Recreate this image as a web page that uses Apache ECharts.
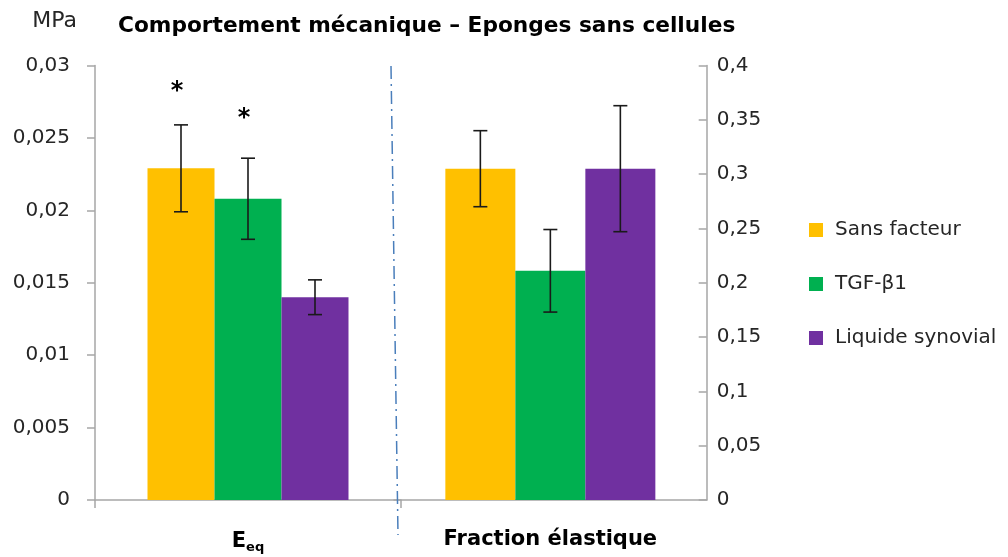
<!DOCTYPE html>
<html>
<head>
<meta charset="utf-8">
<script src="https://cdn.jsdelivr.net/npm/echarts@6/dist/echarts.min.js"></script>
<style>
  html, body { margin: 0; padding: 0; background: #fff; }
  #chart { width: 1008px; height: 557px; }
</style>
</head>
<body>
<div id="chart"></div>
<script>
// Mechanical behaviour of cell-free sponges: equilibrium modulus and elastic fraction
const categories = ['E_eq', 'Fraction élastique'];
const seriesNames = ['Sans facteur', 'TGF-β1', 'Liquide synovial'];
const seriesColors = ['#FFC000', '#00B050', '#7030A0'];

// Equilibrium modulus (MPa), left axis
const eeqValues = [0.0229, 0.0208, 0.0140];
const eeqErrors = [0.0030, 0.0028, 0.0012];

// Elastic fraction, right axis
const fractionValues = [0.305, 0.211, 0.305];
const fractionErrors = [0.035, 0.038, 0.058];

// Axis scales
const leftAxis = { min: 0, max: 0.03, interval: 0.005, name: 'MPa' };
const rightAxis = { min: 0, max: 0.4, interval: 0.05 };

// Significance marks (series index, height in MPa)
const stars = [
  { series: 0, value: 0.0285 },
  { series: 1, value: 0.0267 }
];

const FONT = '"DejaVu Sans", sans-serif';
const AXIS_GREY = '#a6a6a6';
const LABEL_COLOR = '#262626';
const BAR_W = [67, 70];

const fmt = v => String(parseFloat(Number(v).toFixed(4))).replace('.', ',');

function errorBarSeries(gridIdx, values, errors) {
  const barW = BAR_W[gridIdx];
  return {
    type: 'custom',
    xAxisIndex: gridIdx,
    yAxisIndex: gridIdx,
    silent: true,
    z: 5,
    data: values.map((v, i) => [0, v - errors[i], v + errors[i], i]),
    renderItem: (params, api) => {
      const i = api.value(3);
      const off = (i - (seriesNames.length - 1) / 2) * barW;
      const lo = api.coord([api.value(0), api.value(1)]);
      const hi = api.coord([api.value(0), api.value(2)]);
      const x = lo[0] + off;
      const cap = 7;
      const style = { stroke: '#1a1a1a', lineWidth: 1.6 };
      return {
        type: 'group',
        children: [
          { type: 'line', shape: { x1: x, y1: lo[1], x2: x, y2: hi[1] }, style },
          { type: 'line', shape: { x1: x - cap, y1: lo[1], x2: x + cap, y2: lo[1] }, style },
          { type: 'line', shape: { x1: x - cap, y1: hi[1], x2: x + cap, y2: hi[1] }, style }
        ]
      };
    }
  };
}

const starSeries = {
  type: 'custom',
  xAxisIndex: 0,
  yAxisIndex: 0,
  silent: true,
  z: 6,
  data: stars.map(s => [0, s.value, s.series]),
  renderItem: (params, api) => {
    const i = api.value(2);
    const off = (i - (seriesNames.length - 1) / 2) * BAR_W[0];
    const p = api.coord([api.value(0), api.value(1)]);
    return {
      type: 'text',
      style: {
        text: '*',
        x: p[0] + off - 4,
        y: p[1] + 5,
        align: 'center',
        verticalAlign: 'middle',
        font: 'bold 24px ' + FONT,
        fill: '#000'
      }
    };
  }
};

const barSeries = [];
seriesNames.forEach((name, i) => {
  barSeries.push({
    type: 'bar', name, xAxisIndex: 0, yAxisIndex: 0,
    data: [eeqValues[i]], barWidth: BAR_W[0], barGap: '0%',
    itemStyle: { color: seriesColors[i] }
  });
});
seriesNames.forEach((name, i) => {
  barSeries.push({
    type: 'bar', name, xAxisIndex: 1, yAxisIndex: 1,
    data: [fractionValues[i]], barWidth: BAR_W[1], barGap: '0%',
    itemStyle: { color: seriesColors[i] }
  });
});

const chart = echarts.init(document.getElementById('chart'), null, { renderer: 'canvas' });

chart.setOption({
  animation: false,
  backgroundColor: '#fff',
  textStyle: { fontFamily: FONT },
  title: {
    text: 'Comportement mécanique – Eponges sans cellules',
    left: 113, top: 10,
    textStyle: { fontFamily: FONT, fontWeight: 'bold', fontSize: 21.7, color: '#000' }
  },
  legend: {
    orient: 'vertical',
    left: 804, top: 215,
    itemWidth: 14, itemHeight: 14, itemGap: 34,
    icon: 'rect',
    data: seriesNames,
    textStyle: { fontFamily: FONT, fontSize: 20, color: LABEL_COLOR, padding: [0, 0, 0, 7] }
  },
  grid: [
    { left: 95, top: 65.5, width: 306, height: 434.5 },
    { left: 394, top: 65.5, width: 312.7, height: 434.5 }
  ],
  xAxis: [
    {
      type: 'category', gridIndex: 0, data: [categories[0]],
      axisLine: { lineStyle: { color: AXIS_GREY, width: 1.5 } },
      axisTick: { show: true, length: 8, lineStyle: { color: AXIS_GREY, width: 1.5 } },
      axisLabel: {
        margin: 29,
        formatter: () => '{b|E}{s|eq}',
        rich: {
          b: { fontFamily: FONT, fontWeight: 'bold', fontSize: 21, color: '#000' },
          s: { fontFamily: FONT, fontWeight: 'bold', fontSize: 13, color: '#000', padding: [12, 0, 0, 0] }
        }
      }
    },
    {
      type: 'category', gridIndex: 1, data: [categories[1]],
      axisLine: { lineStyle: { color: AXIS_GREY, width: 1.5 } },
      axisTick: { show: false },
      axisLabel: {
        margin: 29,
        fontFamily: FONT, fontWeight: 'bold', fontSize: 21, color: '#000'
      }
    }
  ],
  yAxis: [
    {
      type: 'value', gridIndex: 0, position: 'left',
      min: leftAxis.min, max: leftAxis.max, interval: leftAxis.interval,
      name: leftAxis.name, nameLocation: 'end', nameGap: 33,
      nameTextStyle: { fontFamily: FONT, fontSize: 22, color: LABEL_COLOR, align: 'right', padding: [0, 18, 0, 0] },
      axisLine: { show: true, lineStyle: { color: AXIS_GREY, width: 1.5 } },
      axisTick: { show: true, length: 8, lineStyle: { color: AXIS_GREY, width: 1.5 } },
      splitLine: { show: false },
      axisLabel: { margin: 25, fontFamily: FONT, fontSize: 20, color: LABEL_COLOR, formatter: fmt }
    },
    {
      type: 'value', gridIndex: 1, position: 'right',
      min: rightAxis.min, max: rightAxis.max, interval: rightAxis.interval,
      axisLine: { show: true, lineStyle: { color: AXIS_GREY, width: 1.5 } },
      axisTick: { show: true, inside: true, length: 8, lineStyle: { color: AXIS_GREY, width: 1.5 } },
      splitLine: { show: false },
      axisLabel: { margin: 10, fontFamily: FONT, fontSize: 20, color: LABEL_COLOR, formatter: fmt }
    }
  ],
  series: [
    ...barSeries,
    errorBarSeries(0, eeqValues, eeqErrors),
    errorBarSeries(1, fractionValues, fractionErrors),
    starSeries
  ],
  graphic: [
    {
      type: 'line',
      silent: true,
      z: 10,
      shape: { x1: 391, y1: 66, x2: 398, y2: 535 },
      style: { stroke: '#4a7ebb', lineWidth: 1.5, lineDash: [13, 5, 2, 5] }
    }
  ]
});
</script>
</body>
</html>
